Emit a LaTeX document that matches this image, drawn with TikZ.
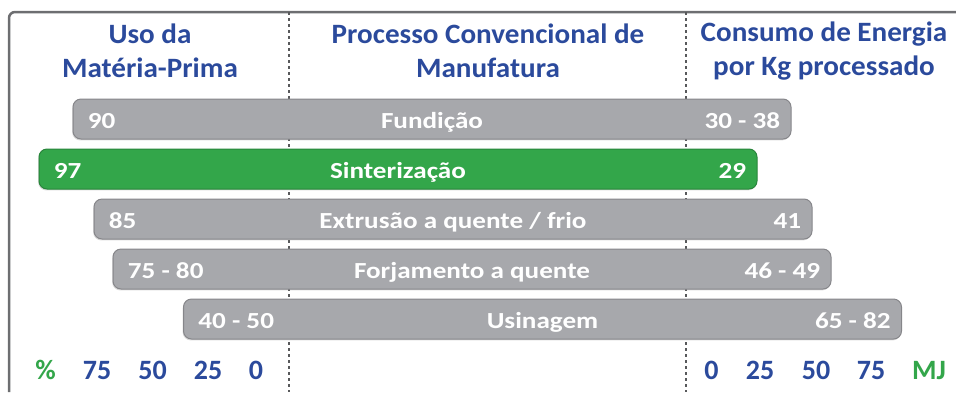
\documentclass[tikz,border=0pt]{standalone}
\usepackage{fontspec}
\setmainfont{Carlito}
\newfontfamily\barfont[FakeStretch=1.18]{Carlito}
\newfontfamily\headfont[FakeStretch=1.04]{Carlito}
\usetikzlibrary{positioning,shadows}

\definecolor{titleblue}{HTML}{2B4A9C}
\definecolor{bargray}{HTML}{A7A8AC}
\definecolor{bargreen}{HTML}{33A64A}
\definecolor{framegray}{HTML}{6D6E71}
\definecolor{dotgray}{HTML}{58595B}

\begin{document}
\begin{tikzpicture}
  [
  x=0.5pt, y=-0.5pt, font=\bfseries,
  bar/.style={rectangle, rounded corners=4pt, minimum width=359pt, minimum height=20pt,
    inner sep=0pt, fill=bargray, draw=bargray!80!black, line width=0.5pt,
    drop shadow={shadow xshift=-0.4pt, shadow yshift=-0.7pt, opacity=0.3}},
  greenbar/.style={bar, fill=bargreen, draw=bargreen!80!black},
  head/.style={text=titleblue, align=center, font=\headfont\fontsize{14}{17}\selectfont\bfseries},
  axis/.style={text=titleblue, inner sep=0pt, text height=8.9pt, text depth=0pt,
    font=\fontsize{14}{17}\selectfont\bfseries},
  inlabel/.style={text=white, inner sep=0pt, text height=9pt, text depth=0pt,
    font=\barfont\fontsize{11.5}{13}\selectfont\bfseries},
  frame/.style={draw=framegray, line width=1.25pt, rounded corners=3pt},
  sepline/.style={draw=dotgray, line width=1.2pt, dash pattern=on 1.4pt off 1.6pt},
  ]

  \useasboundingbox (0,0) rectangle (956,392);

  \draw[frame] (9,392) |- (956,12);
  \draw[sepline] (289,12) -- (289,392);
  \draw[sepline] (686,12) -- (686,392);

  \node[head] (uso) at (150,51) {Uso da\\Matéria-Prima};
  \node[head] (proc) at (488,51) {Processo Convencional de\\Manufatura};
  \node[head] (cons) at (824,51) {Consumo de Energia\\por Kg processado};

  \foreach \name/\cx/\cy/\pct/\proc/\mj/\look in {
      fund/432/119/90/Fundição/30 - 38/bar,
      sint/398/169/97/Sinterização/29/greenbar,
      extr/453/219/85/{Extrusão a quente / frio}/41/bar,
      forj/472/269/75 - 80/Forjamento a quente/46 - 49/bar,
      usin/542.5/319/40 - 50/Usinagem/65 - 82/bar} {
    \node[\look] (\name) at (\cx,\cy) {};
    \node[inlabel, anchor=west, xshift=7.5pt] (\name-pct) at (\name.west) {\pct};
    \node[inlabel] (\name-proc) at (\name.center) {\proc};
    \node[inlabel, anchor=east, xshift=-5.5pt] (\name-mj) at (\name.east) {\mj};
  }

  \node[axis, text=bargreen] (pctunit) at (45.5,371) {\%};
  \foreach \v/\x in {75/97, 50/152.5, 25/208, 0/256}
    \node[axis] (pct\v) at (\x,371) {\v};

  \foreach \v/\x in {0/711.5, 25/760, 50/816, 75/871}
    \node[axis] (mj\v) at (\x,371) {\v};
  \node[axis, text=bargreen] (mjunit) at (929,371) {MJ};
\end{tikzpicture}
\end{document}
